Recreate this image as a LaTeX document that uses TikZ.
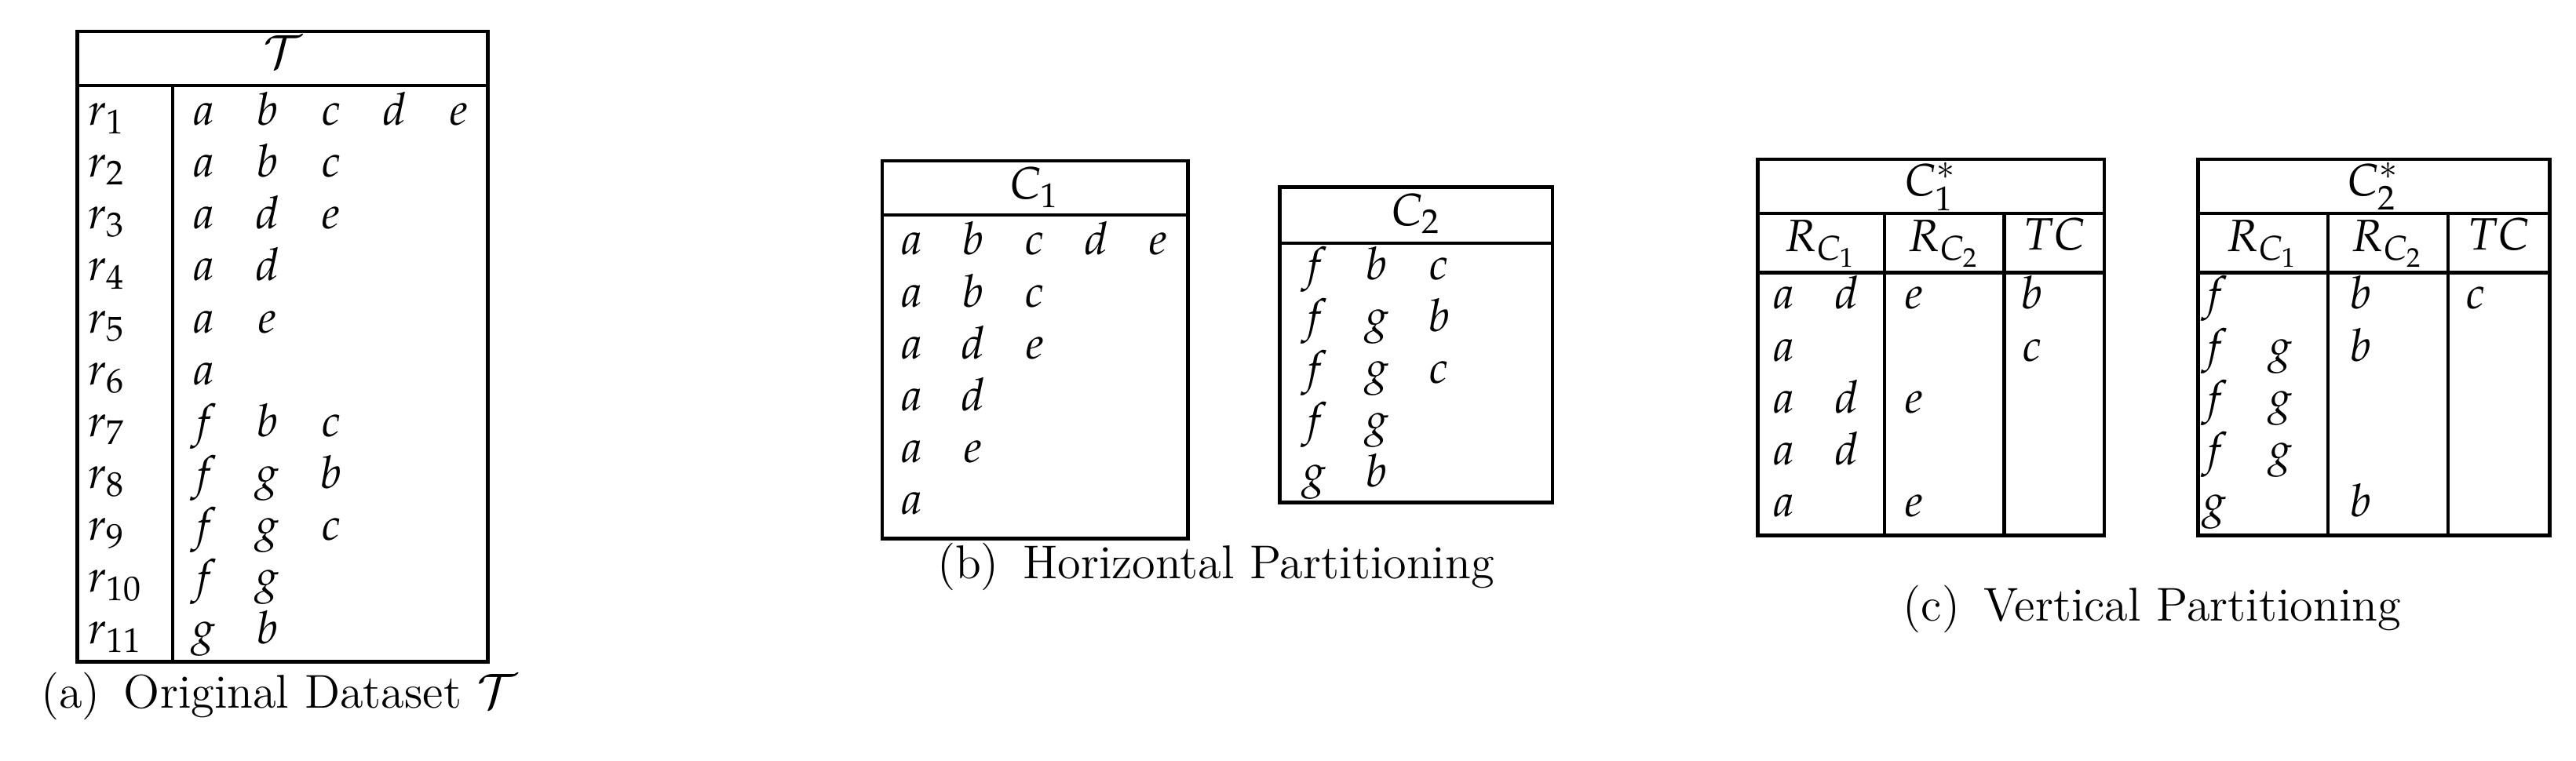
\documentclass[tikz,border=0pt]{standalone}
\usepackage{mathpazo}
\renewcommand{\rmdefault}{ppl}
\begin{document}
\begin{tikzpicture}[x=0.0134cm,y=-0.0134cm,
  box/.style={line width=0.8pt},
  t/.style={inner sep=0pt,anchor=center,text height=1.6ex,text depth=0.5ex,font=\fontsize{10.5}{12}\selectfont},
  captxt/.style={inner sep=0pt,anchor=center,text height=1.6ex,text depth=0.5ex,font=\fontsize{11}{13}\selectfont}]
\useasboundingbox (0,0) rectangle (1568,463);
% (a)
\draw[box] (47,19) rectangle (297,403);
\draw[box] (47,52) -- (297,52) (105,52) -- (105,403);
\node[t] (Th) at (172,35) {$\mathcal{T}$};
\foreach \i/\row in {1/{a,b,c,d,e},2/{a,b,c},3/{a,d,e},4/{a,d},5/{a,e},6/{a},7/{f,b,c},8/{f,g,b},9/{f,g,c},10/{f,g},11/{g,b}}{
  \pgfmathsetmacro\yy{70+(\i-1)*31.6}
  \node[t,anchor=west] (r\i) at (53,\yy) {$r_{\i}$};
  \foreach \v [count=\j] in \row {
    \pgfmathsetmacro\xx{124+(\j-1)*38.8}
    \node[t] (T\i-\j) at (\xx,\yy) {$\v$};
  }
}
\node[captxt] (capa) at (170,425) {(a)\enspace Original Dataset $\mathcal{T}$};
% (b)
\draw[box] (537,98) rectangle (723,328);
\draw[box] (537,131) -- (723,131);
\node[t] (C1h) at (630,115) {$C_1$};
\foreach \i/\row in {1/{a,b,c,d,e},2/{a,b,c},3/{a,d,e},4/{a,d},5/{a,e},6/{a}}{
  \pgfmathsetmacro\yy{149+(\i-1)*31.6}
  \foreach \v [count=\j] in \row {
    \pgfmathsetmacro\xx{555+(\j-1)*37.5}
    \node[t] (B\i-\j) at (\xx,\yy) {$\v$};
  }
}
\draw[box] (779,114) rectangle (945,306);
\draw[box] (779,148) -- (945,148);
\node[t] (C2h) at (862,131) {$C_2$};
\foreach \i/\row in {1/{f,b,c},2/{f,g,b},3/{f,g,c},4/{f,g},5/{g,b}}{
  \pgfmathsetmacro\yy{164+(\i-1)*31.6}
  \foreach \v [count=\j] in \row {
    \pgfmathsetmacro\xx{800+(\j-1)*38}
    \node[t] (D\i-\j) at (\xx,\yy) {$\v$};
  }
}
\node[captxt] (capb) at (740,346) {(b)\enspace Horizontal Partitioning};
% (c)
\foreach \L/\R/\da/\db/\nm/\sub in {1070/1281/1147/1220/E/1, 1338/1552/1417/1490/F/2}{
  \draw[box] (\L,97) rectangle (\R,326);
  \draw[box] (\L,130) -- (\R,130) (\L,166) -- (\R,166);
  \draw[box] (\da,130) -- (\da,326) (\db,130) -- (\db,326);
  \node[t] (\nm h) at ({(\L+\R)/2},113) {$C_{\sub}^{*}$};
  \node[t] (\nm r1) at ({(\L+\da)/2},147) {$R_{C_1}$};
  \node[t] (\nm r2) at ({(\da+\db)/2},147) {$R_{C_2}$};
  \node[t] (\nm tc) at ({(\db+\R)/2},146) {$TC$};
}
\foreach \i/\p/\q/\r/\s in {1/a/d/e/b,2/a/{}/{}/c,3/a/d/e/{},4/a/d/{}/{},5/a/{}/e/{}}{
  \pgfmathsetmacro\yy{182+(\i-1)*31.6}
  \node[t] (E\i a) at (1086,\yy) {$\p$};
  \node[t] (E\i b) at (1124,\yy) {$\q$};
  \node[t] (E\i c) at (1165,\yy) {$\r$};
  \node[t] (E\i d) at (1237,\yy) {$\s$};
}
\foreach \i/\p/\q/\r/\s in {1/f/{}/b/c,2/f/g/b/{},3/f/g/{}/{},4/f/g/{}/{},5/g/{}/b/{}}{
  \pgfmathsetmacro\yy{182+(\i-1)*31.6}
  \node[t] (F\i a) at (1348,\yy) {$\p$};
  \node[t] (F\i b) at (1388,\yy) {$\q$};
  \node[t] (F\i c) at (1437,\yy) {$\r$};
  \node[t] (F\i d) at (1507,\yy) {$\s$};
}
\node[captxt] (capc) at (1310,372) {(c)\enspace Vertical Partitioning};
\end{tikzpicture}
\end{document}
